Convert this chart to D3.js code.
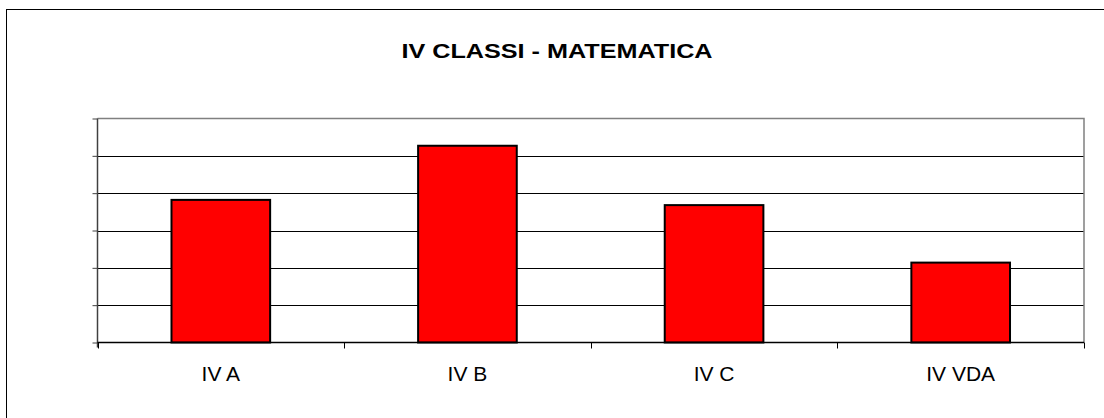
<!DOCTYPE html>
<html>
<head>
<meta charset="utf-8">
<script src="https://cdn.jsdelivr.net/npm/d3@7"></script>
<style>
  html, body { margin: 0; padding: 0; background: #fff; }
  svg { display: block; }
  text { font-family: "Liberation Sans", Arial, sans-serif; fill: #000; }
</style>
</head>
<body>
<svg id="chart" width="1104" height="418"></svg>
<script>
// Class results, mathematics
const categories = ["IV A", "IV B", "IV C", "IV VDA"];
const values = [38.2, 52.7, 36.8, 21.4];
const yTicks = [0, 10, 20, 30, 40, 50, 60];
const title = "IV CLASSI - MATEMATICA";

const svg = d3.select("#chart");
const W = 1104, H = 418;

// outer chart frame (runs off the right and bottom edges)
svg.append("rect")
  .attr("x", 6.5).attr("y", 9.5)
  .attr("width", W + 20).attr("height", H + 20)
  .attr("fill", "#fff").attr("stroke", "#000").attr("stroke-width", 1);

const plot = { left: 97.5, right: 1084, top: 118.5, bottom: 342.5 };

const x = d3.scaleBand()
  .domain(categories)
  .range([plot.left, plot.right])
  .paddingInner(0.6)
  .paddingOuter(0.3);

const y = d3.scaleLinear()
  .domain([0, 60])
  .range([plot.bottom, plot.top]);

// title (wide bold lettering)
svg.append("text")
  .attr("x", 557).attr("y", 57.5)
  .attr("text-anchor", "middle")
  .attr("font-weight", "bold")
  .attr("font-size", 21)
  .attr("textLength", 311)
  .attr("lengthAdjust", "spacingAndGlyphs")
  .text(title);

// horizontal gridlines
svg.append("g")
  .selectAll("line")
  .data(yTicks.filter(d => d > 0 && d < 60))
  .join("line")
  .attr("x1", plot.left).attr("x2", plot.right)
  .attr("y1", d => Math.round(y(d)) + 0.5)
  .attr("y2", d => Math.round(y(d)) + 0.5)
  .attr("stroke", "#000").attr("stroke-width", 1);

// plot area top and right border
svg.append("path")
  .attr("d", `M${plot.left},${plot.top}H${plot.right}V${plot.bottom}`)
  .attr("fill", "none").attr("stroke", "#808080").attr("stroke-width", 1.5);

// bars
svg.append("g")
  .selectAll("rect")
  .data(categories.map((c, i) => ({ c, v: values[i] })))
  .join("rect")
  .attr("x", d => x(d.c))
  .attr("y", d => y(d.v))
  .attr("width", x.bandwidth())
  .attr("height", d => y(0) - y(d.v))
  .attr("fill", "#ff0000")
  .attr("stroke", "#000")
  .attr("stroke-width", 2);

// y axis: line and ticks, no labels
const yAxis = d3.axisLeft(y).tickValues(yTicks).tickSize(5).tickFormat("");
const gy = svg.append("g").attr("transform", `translate(${plot.left},0)`).call(yAxis);
gy.select(".domain").attr("stroke", "#404040").attr("stroke-width", 1.5).attr("d", `M0,${plot.top}V${plot.bottom + 5}`);
gy.selectAll(".tick line").attr("stroke", "#404040");

// x axis: ticks at category boundaries, labels centred under bars
const bounds = d3.range(categories.length + 1).map(i => plot.left + i * (plot.right - plot.left) / categories.length);
svg.append("line")
  .attr("x1", plot.left).attr("x2", plot.right)
  .attr("y1", plot.bottom).attr("y2", plot.bottom)
  .attr("stroke", "#000").attr("stroke-width", 1.5);
svg.append("g")
  .selectAll("line")
  .data(bounds)
  .join("line")
  .attr("x1", d => Math.round(d) + 0.5).attr("x2", d => Math.round(d) + 0.5)
  .attr("y1", plot.bottom).attr("y2", plot.bottom + 6)
  .attr("stroke", "#000");

svg.append("g")
  .selectAll("text")
  .data(categories)
  .join("text")
  .attr("x", d => x(d) + x.bandwidth() / 2)
  .attr("y", 381)
  .attr("text-anchor", "middle")
  .attr("font-size", 21)
  .text(d => d);
</script>
</body>
</html>
